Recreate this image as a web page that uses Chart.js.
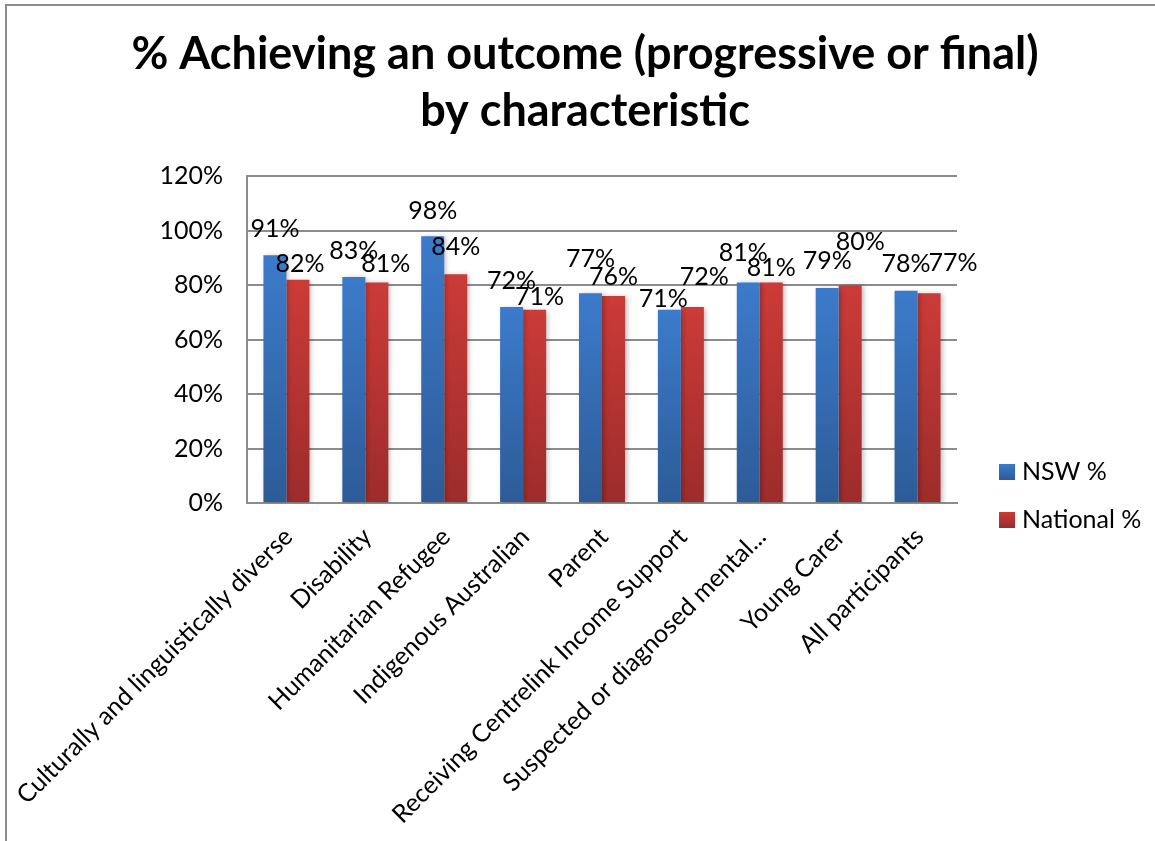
<!DOCTYPE html>
<html>
<head>
<meta charset="utf-8">
<title>% Achieving an outcome by characteristic</title>
<script src="https://cdn.jsdelivr.net/npm/chart.js@4.4.0/dist/chart.umd.min.js"></script>
<style>
  html, body { margin: 0; padding: 0; overflow: hidden; background: #fff; }
  #wrap { position: relative; width: 1170px; height: 841px; }
  #frame {
    position: absolute; left: 5px; top: 4px; width: 1300px; height: 1000px;
    border-left: 2px solid #8c8c8c; border-top: 2px solid #8c8c8c;
    pointer-events: none;
  }
</style>
</head>
<body>
<div id="wrap">
  <canvas id="outcomeChart"></canvas>
  <div id="frame"></div>
</div>
<script>
const categories = [
  "Culturally and linguistically diverse",
  "Disability",
  "Humanitarian Refugee",
  "Indigenous Australian",
  "Parent",
  "Receiving Centrelink Income Support",
  "Suspected or diagnosed mental...",
  "Young Carer",
  "All participants"
];
const nswValues = [91, 83, 98, 72, 77, 71, 81, 79, 78];
const nationalValues = [82, 81, 84, 71, 76, 72, 81, 80, 77];
const seriesNames = ["NSW %", "National %"];
const yMax = 120;
const yStep = 20;

// value labels sit above each bar; these shift the crowded ones apart [dx, dy]
const nswLabelNudge = [[0, -11], [0, -11], [0, -10], [0, -11], [0, -19], [-6, 4], [-5, -15], [0, -12], [0, -12]];
const nationalLabelNudge = [[2, -1], [9, -4], [0, -12], [5, 2], [0, -4], [12, -15], [0, 0], [10, -28], [24, -15]];

const FONT = "Lato, 'Open Sans', sans-serif";
const gridGrey = "#8c8c8c";
const palette = {
  blueTop: "#3C7BCB",
  blueBottom: "#2D5B97",
  redTop: "#CC3B38",
  redBottom: "#9C2C2B",
};
const leftGutter = 247;   // room for the percentage ticks
const rightGutter = 213;  // room for the legend
const bottomGutter = 338; // room for the slanted category names

// vertical gradient running from the top of each bar down to its base
function barGradient(top, bottom) {
  return (context) => {
    const { chart } = context;
    if (!chart.chartArea || context.type !== "data") return bottom;
    const y = chart.scales.y;
    const g = chart.ctx.createLinearGradient(0, y.getPixelForValue(context.parsed.y), 0, y.getPixelForValue(0));
    g.addColorStop(0, top);
    g.addColorStop(1, bottom);
    return g;
  };
}

const barShadow = {
  id: "barShadow",
  beforeDatasetsDraw(chart) {
    const ctx = chart.ctx;
    ctx.save();
    ctx.shadowColor = "rgba(0,0,0,0.28)";
    ctx.shadowBlur = 5;
    ctx.shadowOffsetX = 2;
    ctx.shadowOffsetY = 1;
  },
  afterDatasetsDraw(chart) {
    chart.ctx.restore();
  }
};

const barValueLabels = {
  id: "barValueLabels",
  afterDatasetsDraw(chart) {
    const ctx = chart.ctx;
    ctx.save();
    ctx.font = "25px " + FONT;
    ctx.fillStyle = "#000";
    ctx.textAlign = "center";
    ctx.textBaseline = "middle";
    chart.data.datasets.forEach((ds, di) => {
      chart.getDatasetMeta(di).data.forEach((bar, i) => {
        const [dx, dy] = ds.labelNudge[i];
        ctx.fillText(ds.data[i] + "%", bar.x + dx, bar.y - 15 + dy);
      });
    });
    ctx.restore();
  }
};

// legend drawn beside the plot, level with its lower part
const sideLegend = {
  id: "sideLegend",
  afterDraw(chart) {
    const { ctx, chartArea } = chart;
    const x = chartArea.right + 42;
    ctx.save();
    ctx.font = "25px " + FONT;
    ctx.textBaseline = "middle";
    ctx.textAlign = "left";
    chart.data.datasets.forEach((ds, i) => {
      const y = chartArea.bottom - 39 + i * 48;
      const g = ctx.createLinearGradient(0, y, 0, y + 16);
      g.addColorStop(0, ds.legendColors[0]);
      g.addColorStop(1, ds.legendColors[1]);
      ctx.fillStyle = g;
      ctx.fillRect(x, y, 16, 16);
      ctx.fillStyle = "#000";
      ctx.fillText(ds.label, x + 23, y + 8);
    });
    ctx.restore();
  }
};

const ctx = document.getElementById("outcomeChart").getContext("2d");
new Chart(ctx, {
  type: "bar",
  data: {
    labels: categories,
    datasets: [
      {
        label: seriesNames[0],
        data: nswValues,
        backgroundColor: barGradient(palette.blueTop, palette.blueBottom),
        legendColors: [palette.blueTop, palette.blueBottom],
        labelNudge: nswLabelNudge,
      },
      {
        label: seriesNames[1],
        data: nationalValues,
        backgroundColor: barGradient(palette.redTop, palette.redBottom),
        legendColors: [palette.redTop, palette.redBottom],
        labelNudge: nationalLabelNudge,
      },
    ],
  },
  plugins: [barShadow, barValueLabels, sideLegend],
  options: {
    responsive: true,
    maintainAspectRatio: false,
    animation: false,
    categoryPercentage: 0.583,
    barPercentage: 1.0,
    layout: { padding: { top: 26, left: 0, right: 0, bottom: 0 } },
    plugins: {
      legend: { display: false },
      tooltip: { enabled: false },
      title: {
        display: true,
        text: ["% Achieving an outcome (progressive or final)", "by characteristic"],
        color: "#000",
        font: { family: FONT, size: 45, weight: "bold", lineHeight: 1.27 },
        padding: { top: 0, bottom: 36 },
      },
    },
    scales: {
      x: {
        grid: { display: false, drawTicks: false },
        border: { display: true, color: gridGrey, width: 2 },
        ticks: {
          color: "#000",
          font: { family: FONT, size: 25 },
          minRotation: 45,
          maxRotation: 45,
          autoSkip: false,
          padding: 19,
          labelOffset: 2,
        },
        // the long first label may hang out under the y-axis labels
        afterFit: (scale) => {
          scale.paddingLeft = 0;
          scale.height = bottomGutter;
        },
      },
      y: {
        min: 0,
        max: yMax,
        grid: { color: gridGrey, lineWidth: 2, drawTicks: false },
        border: { color: gridGrey, width: 2 },
        ticks: {
          stepSize: yStep,
          color: "#000",
          font: { family: FONT, size: 25 },
          padding: 24,
          callback: (v) => v + "%",
        },
        afterFit: (scale) => { scale.width = leftGutter; },
      },
      // empty axis on the right that only reserves space for the legend
      legendSpace: {
        type: "linear",
        position: "right",
        display: true,
        grid: { display: false, drawTicks: false },
        border: { display: false },
        ticks: { display: false },
        afterFit: (scale) => { scale.width = rightGutter; },
      },
    },
  },
});
</script>
</body>
</html>
